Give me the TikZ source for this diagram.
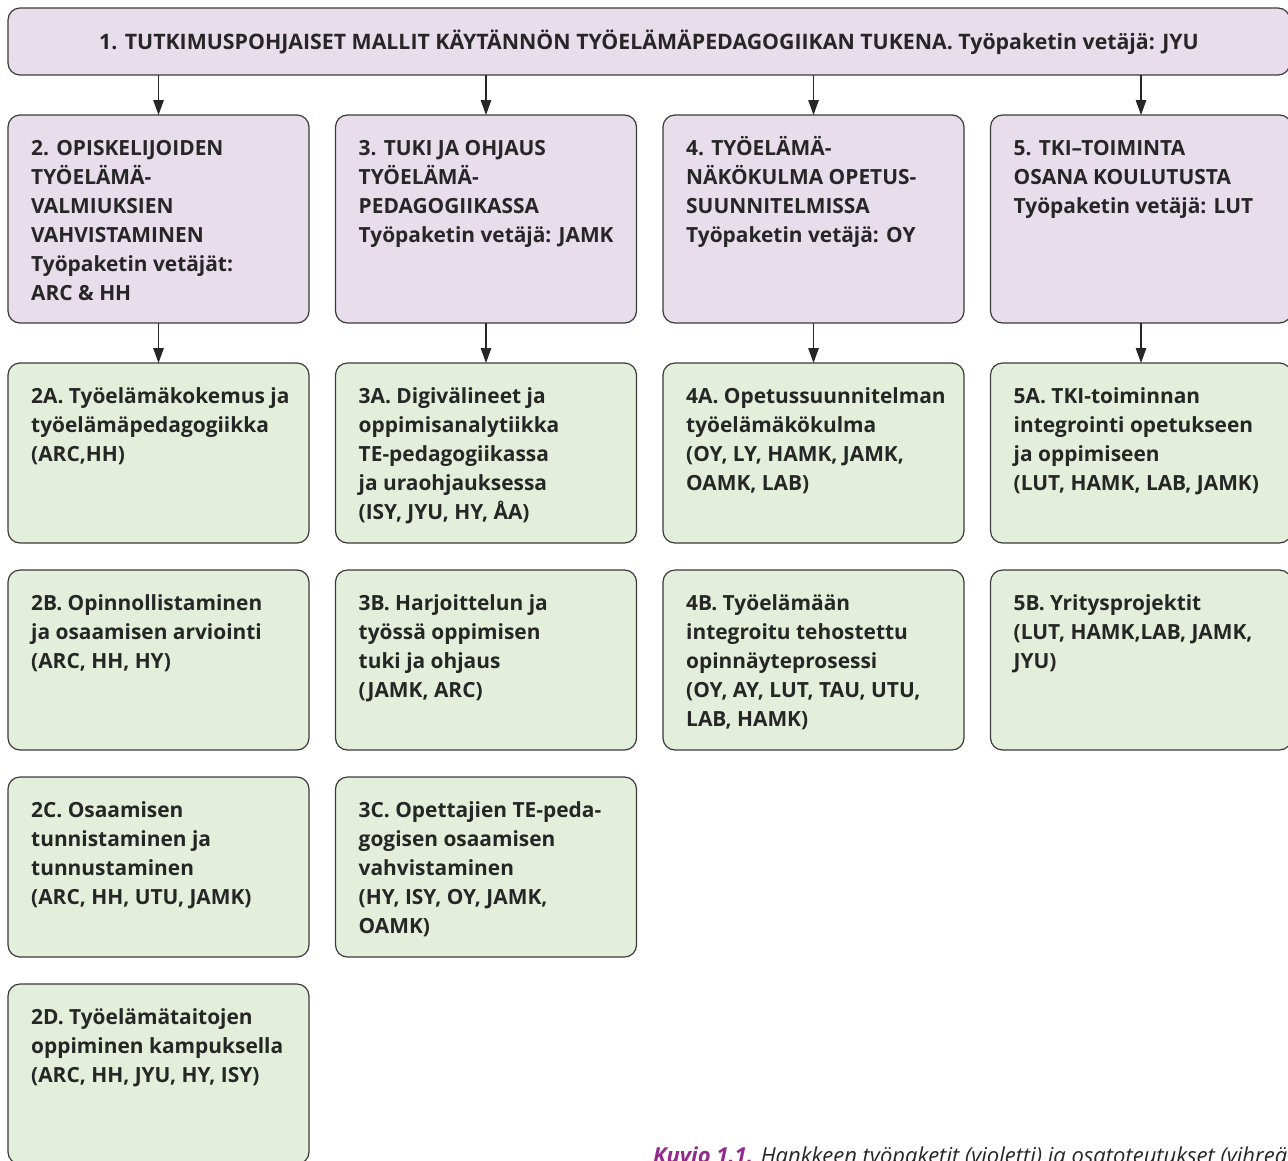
\documentclass[tikz,border=0pt]{standalone}
\usepackage{fontspec}
\setmainfont{Open Sans}
\usetikzlibrary{arrows.meta}
\definecolor{violetfill}{HTML}{E8DDEB}
\definecolor{greenfill}{HTML}{E4EFDB}
\definecolor{edge}{HTML}{3A3A3A}
\definecolor{captionpurple}{HTML}{922B8C}
\newcommand{\firstline}{\rule{0pt}{22pt}}
\tikzset{
  boxbase/.style={draw=edge, line width=1.2pt, rounded corners=12pt, inner sep=0pt, outer sep=0pt, anchor=north west, minimum width=301pt},
  wpbox/.style={boxbase, fill=violetfill, minimum height=208pt},
  subbox/.style={boxbase, fill=greenfill, minimum height=180pt},
  boxtext/.style={anchor=north west, align=left, inner sep=0pt, text=black!85, font=\bfseries\fontsize{20.9}{29}\selectfont},
  arr/.style={draw=black!85, line width=1.3pt, -{Triangle[length=15pt,width=10.5pt]}}
}
\newcommand{\boxlabel}[2]{\node[boxtext] at ([shift={(23pt,-18pt)}]#1.north west) {\firstline#2};}
\begin{document}
\begin{tikzpicture}[x=1pt,y=-1pt]
\useasboundingbox (0,0) rectangle (1288,1160);
% top
\node[boxbase, fill=violetfill, minimum width=1282pt, minimum height=67pt] (top) at (8,8) {};
\node[anchor=base, inner sep=0pt, text=black!85, font=\bfseries\fontsize{21.3}{29}\selectfont] (toptext) at (649,49) {1. TUTKIMUSPOHJAISET MALLIT KÄYTÄNNÖN TYÖELÄMÄPEDAGOGIIKAN TUKENA. Työpaketin vetäjä: JYU};
% work packages
\node[wpbox] (w2) at (8,115) {};
\node[wpbox] (w3) at (335.5,115) {};
\node[wpbox] (w4) at (663,115) {};
\node[wpbox] (w5) at (990.5,115) {};
\boxlabel{w2}{2. OPISKELIJOIDEN\\TYÖELÄMÄ-\\VALMIUKSIEN\\VAHVISTAMINEN\\Työpaketin vetäjät:\\ARC \& HH}
\boxlabel{w3}{3. TUKI JA OHJAUS\\TYÖELÄMÄ-\\PEDAGOGIIKASSA\\Työpaketin vetäjä: JAMK}
\boxlabel{w4}{4. TYÖELÄMÄ-\\NÄKÖKULMA OPETUS-\\SUUNNITELMISSA\\Työpaketin vetäjä: OY}
\boxlabel{w5}{5. TKI–TOIMINTA\\OSANA KOULUTUSTA\\Työpaketin vetäjä: LUT}
% row A
\node[subbox] (a2) at (8,363) {};
\node[subbox] (a3) at (335.5,363) {};
\node[subbox] (a4) at (663,363) {};
\node[subbox] (a5) at (990.5,363) {};
\boxlabel{a2}{2A. Työelämäkokemus ja\\työelämäpedagogiikka\\(ARC,HH)}
\boxlabel{a3}{3A. Digivälineet ja\\oppimisanalytiikka\\TE-pedagogiikassa\\ja uraohjauksessa\\(ISY, JYU, HY, ÅA)}
\boxlabel{a4}{4A. Opetussuunnitelman\\työelämäkökulma\\(OY, LY, HAMK, JAMK,\\OAMK, LAB)}
\boxlabel{a5}{5A. TKI-toiminnan\\integrointi opetukseen\\ja oppimiseen\\(LUT, HAMK, LAB, JAMK)}
% row B
\node[subbox] (b2) at (8,570) {};
\node[subbox] (b3) at (335.5,570) {};
\node[subbox] (b4) at (663,570) {};
\node[subbox] (b5) at (990.5,570) {};
\boxlabel{b2}{2B. Opinnollistaminen\\ja osaamisen arviointi\\(ARC, HH, HY)}
\boxlabel{b3}{3B. Harjoittelun ja\\työssä oppimisen\\tuki ja ohjaus\\(JAMK, ARC)}
\boxlabel{b4}{4B. Työelämään\\integroitu tehostettu\\opinnäyteprosessi\\(OY, AY, LUT, TAU, UTU,\\LAB, HAMK)}
\boxlabel{b5}{5B. Yritysprojektit\\(LUT, HAMK,LAB, JAMK,\\JYU)}
% row C
\node[subbox] (c2) at (8,777) {};
\node[subbox] (c3) at (335.5,777) {};
\boxlabel{c2}{2C. Osaamisen\\tunnistaminen ja\\tunnustaminen\\(ARC, HH, UTU, JAMK)}
\boxlabel{c3}{3C. Opettajien TE-peda-\\gogisen osaamisen\\vahvistaminen\\(HY, ISY, OY, JAMK,\\OAMK)}
% row D
\node[subbox] (d2) at (8,984) {};
\boxlabel{d2}{2D. Työelämätaitojen\\oppiminen kampuksella\\(ARC, HH, JYU, HY, ISY)}
% arrows
\foreach \w in {w2,w3,w4,w5} {
  \draw[arr] (top.south -| \w.north) -- (\w.north);
}
\draw[arr] (w2.south) -- (a2.north);
\draw[arr] (w3.south) -- (a3.north);
\draw[arr] (w4.south) -- (a4.north);
\draw[arr] (w5.south) -- (a5.north);
% caption
\node[anchor=base west, inner sep=0pt, font=\itshape\fontsize{22}{29}\selectfont, text=black!85] (caption) at (653,1163) {\textbf{\textcolor{captionpurple}{Kuvio 1.1.}} Hankkeen työpaketit (violetti) ja osatoteutukset (vihreä).};
\end{tikzpicture}
\end{document}
